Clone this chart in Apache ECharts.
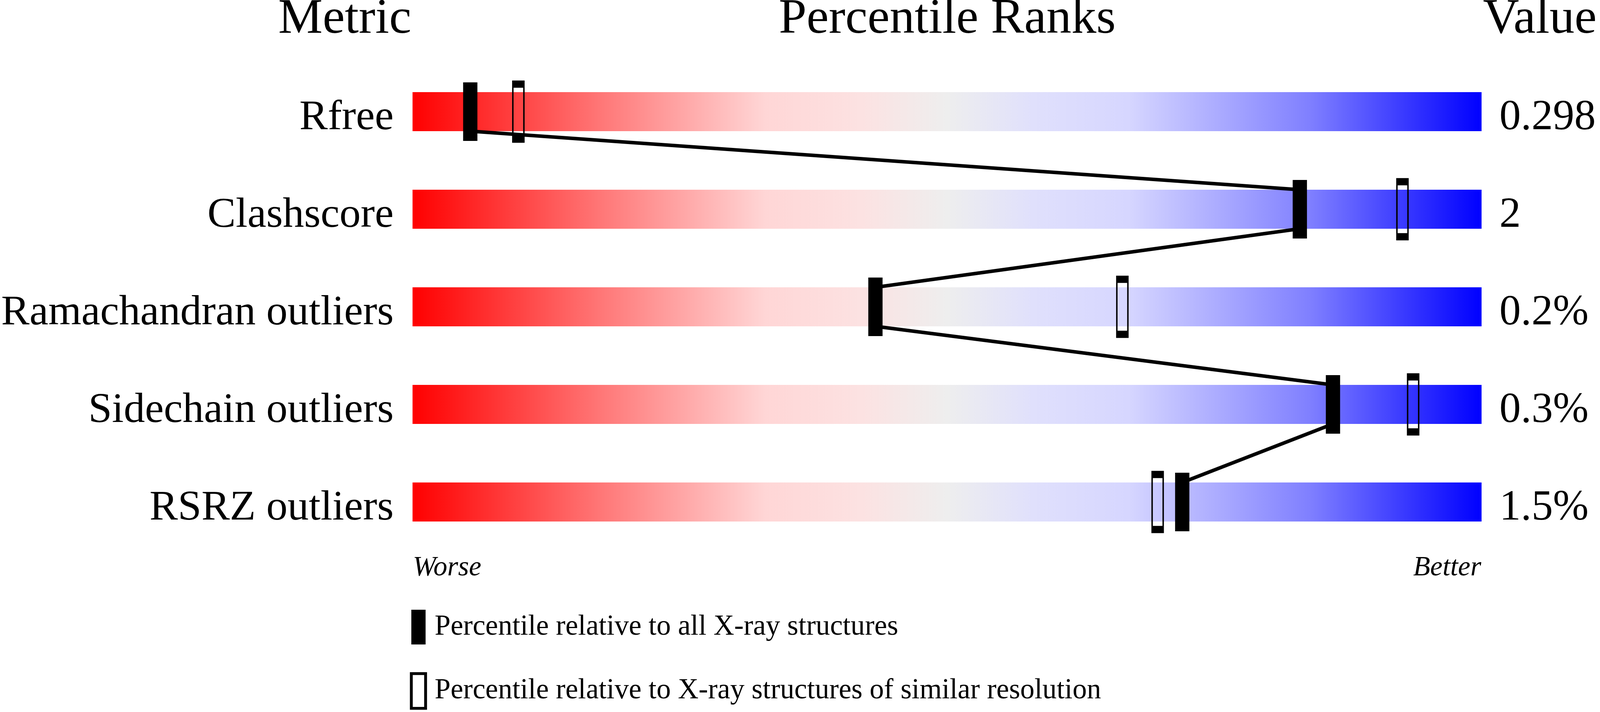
<!DOCTYPE html>
<html>
<head>
<meta charset="utf-8">
<script src="https://cdn.jsdelivr.net/npm/echarts@6/dist/echarts.min.js"></script>
<style>
  html, body {margin: 0; padding: 0; background: #fff; width: 100%; height: 100%; overflow: hidden;}
  #chart {width: 100vw; height: 100vh;}
</style>
</head>
<body>
<div id="chart"></div>
<script>
// metrics, shown top to bottom
const metrics = ['Rfree', 'Clashscore', 'Ramachandran outliers', 'Sidechain outliers', 'RSRZ outliers']
const valueLabels = ['0.298', '2', '0.2%', '0.3%', '1.5%']
// percentile ranks
const pctAll = [5.4, 83.0, 43.3, 86.1, 72.0]
const pctSimilar = [9.9, 92.6, 66.4, 93.6, 69.7]

const SERIF = '"Liberation Serif", "Times New Roman", serif'
const allName = 'Percentile relative to all X-ray structures'
const simName = 'Percentile relative to X-ray structures of similar resolution'

const chart = echarts.init(document.getElementById('chart'))

// layout was measured on a 4485 x 1824 page, scale to whatever we got
const sx = chart.getWidth() / 4485
const sy = chart.getHeight() / 1824
const X = (v) => v * sx
const Y = (v) => v * sy
const F = (v) => v * Math.min(sx, sy)

const trackColor = new echarts.graphic.LinearGradient(0, 0, 1, 0, [
    {offset: 0, color: '#FF0000'},
    {offset: 0.17, color: '#FF7373'},
    {offset: 0.33, color: '#FFD6D6'},
    {offset: 0.42, color: '#FCE2E2'},
    {offset: 0.5, color: '#EEEEEE'},
    {offset: 0.58, color: '#E0E0FC'},
    {offset: 0.67, color: '#D6D6FF'},
    {offset: 0.84, color: '#7F7FFF'},
    {offset: 1, color: '#0000FF'},
])

// labels sit with their baseline on the bottom edge of the bar
const labelStyle = {
    fontFamily: SERIF,
    color: '#000',
    verticalAlign: 'top',
    lineHeight: Y(32),
}

const option = {
    animation: false,
    backgroundColor: '#fff',
    grid: {left: X(1153), right: X(332), top: Y(161), bottom: Y(413)},
    xAxis: {
        type: 'value',
        min: 0,
        max: 100,
        show: false,
    },
    yAxis: [
        {
            type: 'category',
            data: metrics,
            inverse: true,
            axisLine: {show: false},
            axisTick: {show: false},
            splitLine: {show: false},
            axisLabel: {...labelStyle, margin: X(53), fontSize: F(119)},
        },
        {
            type: 'category',
            data: valueLabels,
            inverse: true,
            position: 'right',
            axisLine: {show: false},
            axisTick: {show: false},
            splitLine: {show: false},
            axisLabel: {...labelStyle, margin: X(50), fontSize: F(120)},
        },
    ],
    legend: {
        orient: 'vertical',
        left: X(1149),
        top: Y(1562),
        height: Y(300),
        padding: 0,
        itemWidth: X(40),
        itemHeight: Y(89),
        itemGap: Y(71),
        selectedMode: false,
        textStyle: {
            fontSize: F(80),
            lineHeight: F(80),
            fontFamily: SERIF,
            color: '#000',
            padding: [0, 0, 0, X(20)],
        },
        data: [
            {name: allName, icon: 'rect', itemStyle: {color: '#000', borderWidth: 0}},
            {name: simName, icon: 'rect', itemStyle: {color: '#fff', borderColor: '#000', borderWidth: X(8)}},
        ],
    },
    graphic: [
        {type: 'text', right: X(4485 - 1153), top: Y(-14), style: {text: 'Metric', font: F(140) + 'px ' + SERIF, fill: '#000'}},
        {type: 'text', left: X(2183), top: Y(-14), style: {text: 'Percentile Ranks', font: F(140) + 'px ' + SERIF, fill: '#000'}},
        {type: 'text', left: X(4157), top: Y(-14), style: {text: 'Value', font: F(140) + 'px ' + SERIF, fill: '#000'}},
        {type: 'text', left: X(1157), top: Y(1420), style: {text: 'Worse', font: 'italic ' + F(78) + 'px ' + SERIF, fill: '#000'}},
        {type: 'text', right: X(4485 - 4152), top: Y(1420), style: {text: 'Better', font: 'italic ' + F(78) + 'px ' + SERIF, fill: '#000'}},
    ],
    series: [
        {
            name: 'track',
            type: 'bar',
            barWidth: Y(100),
            silent: true,
            z: 1,
            itemStyle: {color: trackColor},
            data: metrics.map(() => 100),
        },
        {
            name: 'link',
            type: 'custom',
            silent: true,
            z: 2,
            encode: {x: [0, 2], y: [1, 3]},
            renderItem: (params, api) => {
                const a = api.coord([api.value(0), api.value(1)])
                const b = api.coord([api.value(2), api.value(3)])
                // line leaves under one bar and enters over the next one
                const half = api.size([0, 1])[1] * 0.2
                return {
                    type: 'line',
                    shape: {x1: a[0], y1: a[1] + half, x2: b[0], y2: b[1] - half},
                    style: {stroke: '#000', lineWidth: F(10)},
                }
            },
            data: pctAll.slice(0, -1).map((v, i) => [v, i, pctAll[i + 1], i + 1]),
        },
        {
            name: allName,
            type: 'scatter',
            symbol: 'rect',
            symbolSize: [X(40), Y(150)],
            silent: true,
            z: 3,
            itemStyle: {color: '#000', opacity: 1},
            data: pctAll.map((v, i) => [v, i]),
        },
        {
            name: simName,
            type: 'scatter',
            symbol: 'rect',
            symbolSize: [X(31), Y(141)],
            silent: true,
            z: 3,
            itemStyle: {color: 'rgba(0,0,0,0)', borderColor: '#000', borderWidth: F(9), opacity: 1},
            data: pctSimilar.map((v, i) => [v, i]),
        },
    ],
}

chart.setOption(option)
</script>
</body>
</html>
